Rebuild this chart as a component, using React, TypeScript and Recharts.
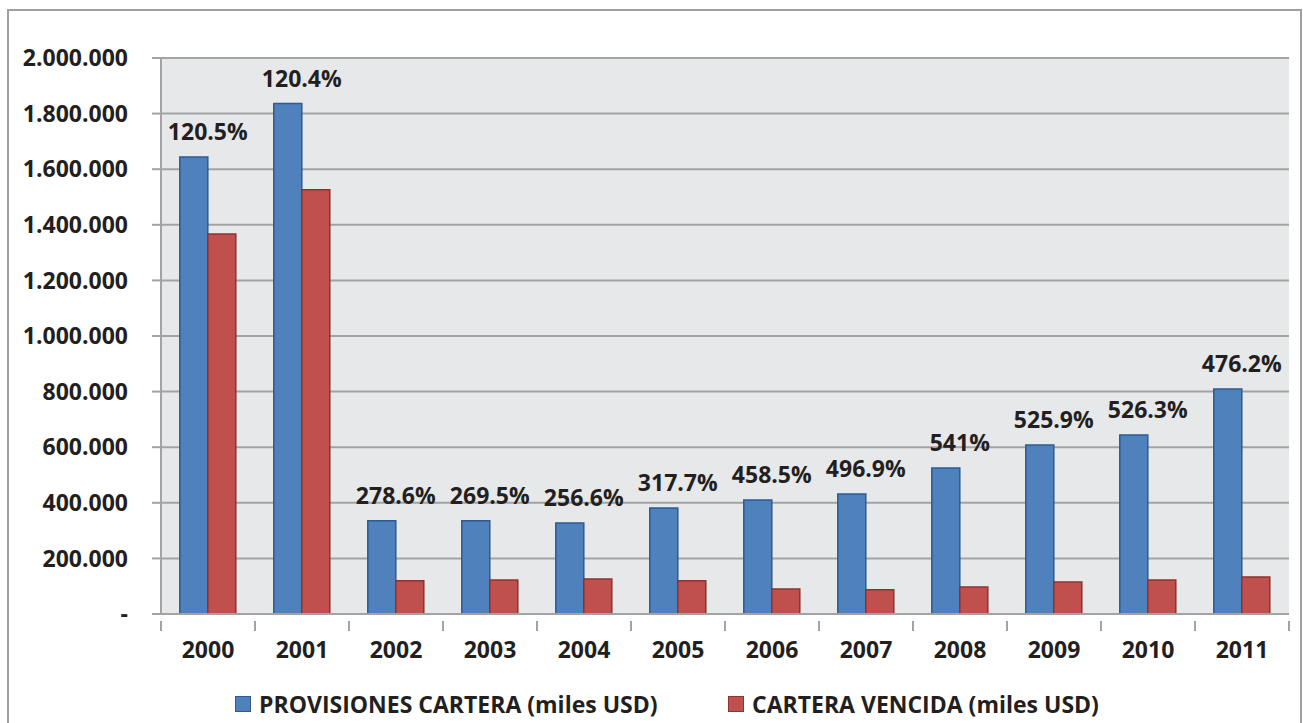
import React from 'react';
import { BarChart, Bar, XAxis, YAxis, CartesianGrid, Legend, LabelList } from 'recharts';

const years = ['2000', '2001', '2002', '2003', '2004', '2005', '2006', '2007', '2008', '2009', '2010', '2011'];
const provisiones = [1644000, 1836000, 335000, 335000, 327000, 381000, 410000, 432000, 525000, 608000, 644000, 809000];
const vencida = [1367000, 1526000, 120000, 122000, 126000, 120000, 90000, 87000, 97000, 115000, 122000, 133000];
const coverage = ['120.5%', '120.4%', '278.6%', '269.5%', '256.6%', '317.7%', '458.5%', '496.9%', '541%', '525.9%', '526.3%', '476.2%'];
const yTicks = [0, 200000, 400000, 600000, 800000, 1000000, 1200000, 1400000, 1600000, 1800000, 2000000];

const BLUE = '#4f81bd';
const BLUE_EDGE = '#2f5a8e';
const RED = '#c0504d';
const RED_EDGE = '#8c3331';
const GRID = '#a3a3a3';
const TEXT = '#231f20';
const FONT = '"Open Sans", sans-serif';

const CHART_W = 1289;
const CHART_H = 712;
const MARGIN = { top: 47, right: 9, left: 0, bottom: 0 };
const Y_W = 152;
const BAND = (CHART_W - MARGIN.left - MARGIN.right - Y_W) / years.length;

const data = years.map((year, i) => ({
  year,
  provisiones: provisiones[i],
  vencida: vencida[i],
  coverage: coverage[i],
}));

// 1.234.567 style, zero shown as a dash
const fmt = (v: number) => (v === 0 ? '-' : String(v).replace(/\B(?=(\d{3})+(?!\d))/g, '.'));

const YearTick = (props: any) => {
  const { x, y, payload, index } = props;
  const last = index === years.length - 1;
  return (
    <g>
      <line x1={x - BAND / 2} y1={y - 1} x2={x - BAND / 2} y2={y + 9} stroke={GRID} strokeWidth={2} />
      {last && <line x1={x + BAND / 2} y1={y - 1} x2={x + BAND / 2} y2={y + 9} stroke={GRID} strokeWidth={2} />}
      <text x={x} y={y + 36} textAnchor="middle" fill={TEXT} fontSize={23} fontWeight={700} fontFamily={FONT}>
        {payload.value}
      </text>
    </g>
  );
};

const CoverageLabel = (props: any) => {
  const { x, y, width, index } = props;
  return (
    <text x={x + width} y={y - 17} textAnchor="middle" fill={TEXT} fontSize={23} fontWeight={700} fontFamily={FONT}>
      {coverage[index]}
    </text>
  );
};

const LegendBox = () => (
  <div style={{ position: 'relative', height: 44, fontFamily: FONT, fontWeight: 700, fontSize: 23, color: TEXT }}>
    <div style={{ position: 'absolute', left: 226, top: 9, display: 'flex', alignItems: 'center' }}>
      <span style={{ width: 14, height: 14, background: BLUE, border: `1px solid ${BLUE_EDGE}`, marginRight: 8 }} />
      PROVISIONES CARTERA (miles USD)
    </div>
    <div style={{ position: 'absolute', left: 719, top: 9, display: 'flex', alignItems: 'center' }}>
      <span style={{ width: 14, height: 14, background: RED, border: `1px solid ${RED_EDGE}`, marginRight: 8 }} />
      CARTERA VENCIDA (miles USD)
    </div>
  </div>
);

export default function App() {
  return (
    <div
      style={{
        position: 'absolute',
        left: 7,
        top: 9,
        width: CHART_W + 6,
        height: 740,
        boxSizing: 'border-box',
        border: '2px solid #a0a0a0',
        background: '#fff',
      }}
    >
      <BarChart width={CHART_W} height={CHART_H} data={data} margin={MARGIN} barCategoryGap="20%" barGap={0}>
        <CartesianGrid vertical={false} stroke={GRID} strokeWidth={2} fill="#e7e8ea" />
        <XAxis
          dataKey="year"
          height={65}
          axisLine={{ stroke: GRID, strokeWidth: 2 }}
          tickLine={false}
          tick={<YearTick />}
          interval={0}
        />
        <YAxis
          width={Y_W}
          domain={[0, 2000000]}
          ticks={yTicks}
          interval={0}
          tickFormatter={fmt}
          axisLine={{ stroke: GRID, strokeWidth: 2 }}
          tickLine={{ stroke: GRID, strokeWidth: 2 }}
          tickSize={9}
          tickMargin={24}
          tick={{ fill: TEXT, fontSize: 23, fontWeight: 700, fontFamily: FONT }}
        />
        <Legend verticalAlign="bottom" height={44} wrapperStyle={{ left: 0, width: CHART_W }} content={<LegendBox />} />
        <Bar dataKey="provisiones" name="PROVISIONES CARTERA (miles USD)" fill={BLUE} stroke={BLUE_EDGE} strokeWidth={1.5} isAnimationActive={false}>
          <LabelList dataKey="coverage" content={<CoverageLabel />} />
        </Bar>
        <Bar dataKey="vencida" name="CARTERA VENCIDA (miles USD)" fill={RED} stroke={RED_EDGE} strokeWidth={1.5} isAnimationActive={false} />
      </BarChart>
    </div>
  );
}
